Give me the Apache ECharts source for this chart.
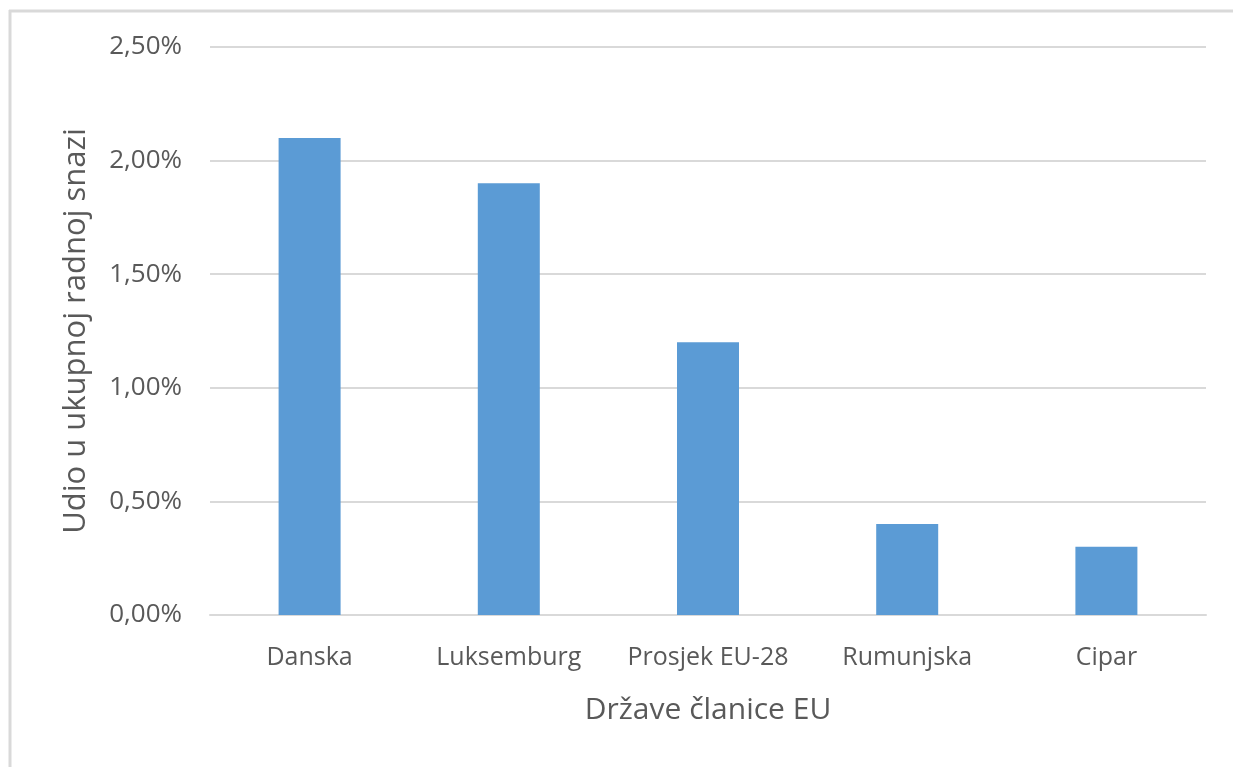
<!DOCTYPE html>
<html>
<head>
<meta charset="utf-8">
<script src="https://cdn.jsdelivr.net/npm/echarts@6/dist/echarts.min.js"></script>
<style>
html,body{margin:0;padding:0;background:#fff;}
#chart{width:1233px;height:767px;}
</style>
</head>
<body>
<div id="chart"></div>
<script>
var categories = ['Danska', 'Luksemburg', 'Prosjek EU-28', 'Rumunjska', 'Cipar'];
var values = [2.1, 1.9, 1.2, 0.4, 0.3];
var yAxisTitle = 'Udio u ukupnoj radnoj snazi';
var xAxisTitle = 'Države članice EU';

var chart = echarts.init(document.getElementById('chart'));
var font = 'Open Sans';
var textColor = '#595959';
var gridColor = '#d9d9d9';
chart.setOption({
  animation: false,
  backgroundColor: '#fff',
  graphic: [
    {type: 'line', shape: {x1: 9, y1: 11, x2: 1233, y2: 11}, style: {stroke: '#d9d9d9', lineWidth: 3}},
    {type: 'line', shape: {x1: 10, y1: 10, x2: 10, y2: 767}, style: {stroke: '#d9d9d9', lineWidth: 3}}
  ],
  grid: {left: 210, right: 27, top: 47, bottom: 152},
  xAxis: {
    type: 'category',
    data: categories,
    name: xAxisTitle,
    nameLocation: 'middle',
    nameGap: 80,
    nameTextStyle: {fontFamily: font, fontSize: 30, color: textColor},
    axisLine: {show: true, lineStyle: {color: gridColor, width: 2}},
    axisTick: {show: false},
    axisLabel: {fontFamily: font, fontSize: 25, color: textColor, margin: 30, interval: 0}
  },
  yAxis: {
    type: 'value',
    min: 0,
    max: 2.5,
    interval: 0.5,
    name: yAxisTitle,
    nameLocation: 'middle',
    nameGap: 118,
    nameRotate: 90,
    nameTextStyle: {fontFamily: font, fontSize: 31, color: textColor},
    axisLine: {show: false},
    axisTick: {show: false},
    splitLine: {lineStyle: {color: gridColor, width: 2}},
    axisLabel: {
      fontFamily: font, fontSize: 26, color: textColor, margin: 28,
      formatter: function (v) { return v.toFixed(2).replace('.', ',') + '%'; }
    }
  },
  series: [{
    type: 'bar',
    data: values,
    barWidth: 62,
    itemStyle: {color: '#5B9BD5'}
  }]
});
</script>
</body>
</html>
